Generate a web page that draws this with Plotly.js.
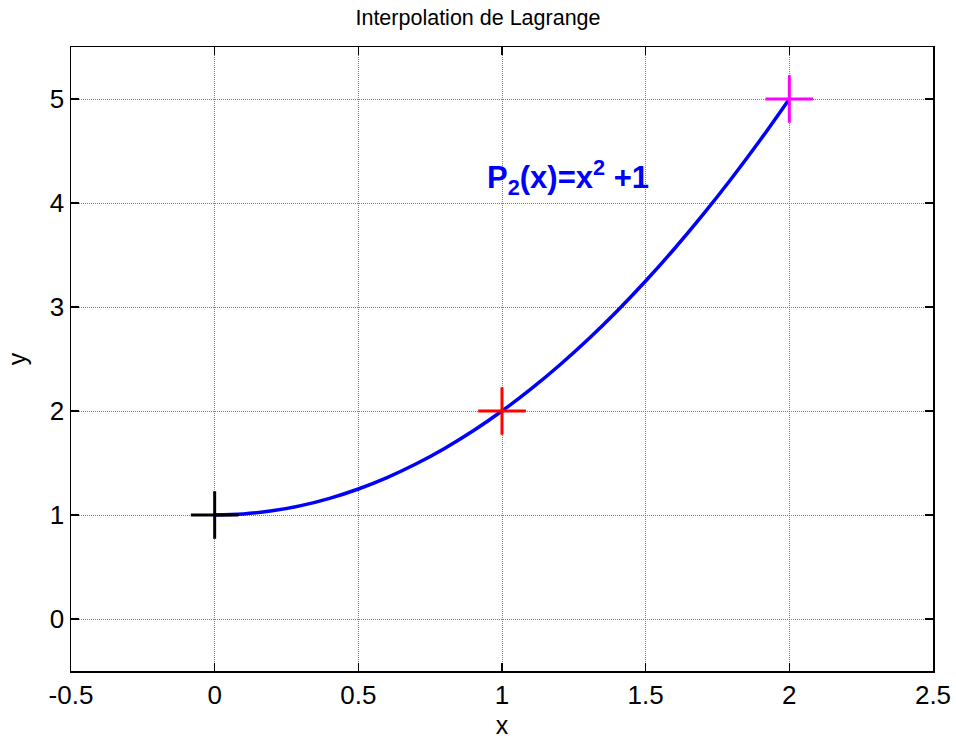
<!DOCTYPE html>
<html>
<head>
<meta charset="utf-8">
<script src="https://cdn.plot.ly/plotly-3.0.1.min.js"></script>
<style>html,body{margin:0;padding:0;background:#fff;}#chart{width:956px;height:739px;}</style>
</head>
<body>
<div id="chart"></div>
<script>
// Interpolating polynomial curve
var curveX = [0, 0.1, 0.2, 0.3, 0.4, 0.5, 0.6, 0.7, 0.8, 0.9, 1.0, 1.1, 1.2, 1.3, 1.4, 1.5, 1.6, 1.7, 1.8, 1.9, 2.0];
var curveY = [1, 1.01, 1.04, 1.09, 1.16, 1.25, 1.36, 1.49, 1.64, 1.81, 2.0, 2.21, 2.44, 2.69, 2.96, 3.25, 3.56, 3.89, 4.24, 4.61, 5.0];
// Interpolation nodes
var nodeX = [0, 1, 2];
var nodeY = [1, 2, 5];
var nodeColors = ['#000000', '#ff0000', '#ff00ff'];
var xTicks = [-0.5, 0, 0.5, 1, 1.5, 2, 2.5];
var xTickText = ['-0.5', '0', '0.5', '1', '1.5', '2', '2.5'];
var yTicks = [0, 1, 2, 3, 4, 5];
var yTickText = ['0', '1', '2', '3', '4', '5'];
var labelText = '<b>P<sub>2</sub>(x)=x<sup>2</sup> +1</b>';
var labelPos = [1.23, 4.25];

var traces = [{
  x: curveX, y: curveY, mode: 'lines', type: 'scatter',
  line: {color: '#0000ff', width: 3.5, shape: 'spline'}, hoverinfo: 'none'
}];
for (var i = 0; i < nodeX.length; i++) {
  traces.push({
    x: [nodeX[i]], y: [nodeY[i]], mode: 'markers', type: 'scatter',
    marker: {symbol: 'cross-thin', size: 34, line: {color: nodeColors[i], width: 3}},
    hoverinfo: 'none'
  });
}

var axisCommon = {
  showline: true, mirror: 'ticks', linecolor: '#000', linewidth: 1.5,
  ticks: 'inside', ticklen: 8, tickwidth: 1.2, tickcolor: '#000',
  showgrid: true, gridcolor: '#808080', griddash: '1px,1px', gridwidth: 1,
  zeroline: false, tickfont: {family: 'Liberation Sans, Arial', size: 26, color: '#000'}
};

var layout = {
  width: 956, height: 739,
  margin: {l: 71, r: 23, t: 47, b: 68},
  paper_bgcolor: '#fff', plot_bgcolor: '#fff',
  showlegend: false,
  font: {family: 'Liberation Sans, Arial', color: '#000'},
  title: {text: 'Interpolation de Lagrange', font: {size: 21.5, color: '#000'}, x: 0.5, xanchor: 'center', y: 0.976, yanchor: 'middle'},
  xaxis: Object.assign({}, axisCommon, {
    range: [-0.5, 2.5], tickvals: xTicks, ticktext: xTickText,
    title: {text: 'x', font: {size: 25, color: '#000'}, standoff: 10}
  }),
  yaxis: Object.assign({}, axisCommon, {
    range: [-0.5, 5.5], tickvals: yTicks, ticktext: yTickText,
    title: {text: 'y', font: {size: 25, color: '#000'}, standoff: 16}
  }),
  annotations: [{
    x: labelPos[0], y: labelPos[1], xref: 'x', yref: 'y', text: labelText,
    showarrow: false, font: {family: 'Liberation Sans, Arial', size: 31, color: '#0000ff'}
  }]
};

Plotly.newPlot('chart', traces, layout, {displayModeBar: false, staticPlot: true});
</script>
</body>
</html>
